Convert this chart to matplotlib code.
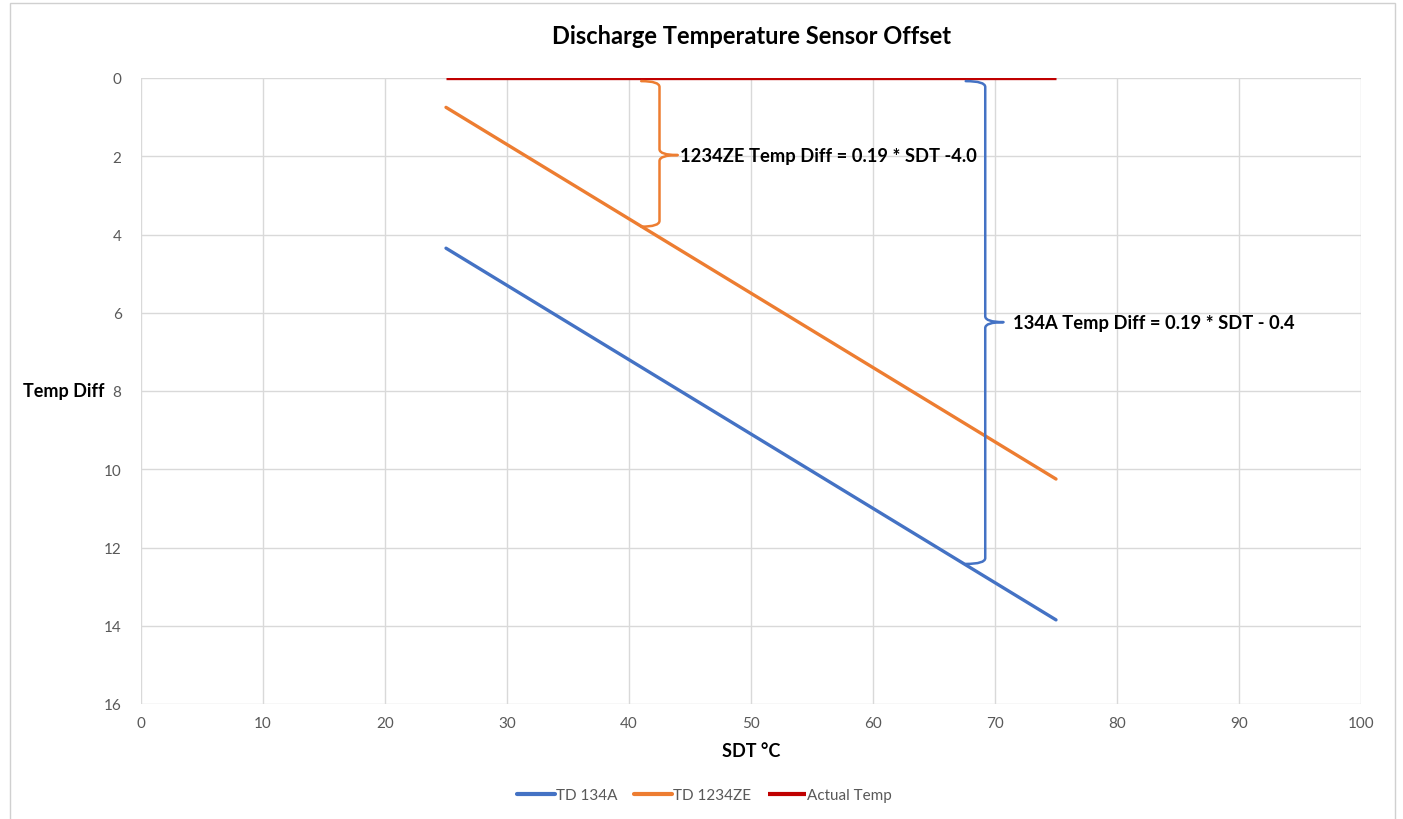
import matplotlib
matplotlib.use("Agg")
import matplotlib.pyplot as plt
from matplotlib.path import Path
from matplotlib.patches import PathPatch, Rectangle

plt.rcParams['font.family'] = ['Lato', 'DejaVu Sans']

# ---- data ----
sdt = [25, 50, 75]
td_134a = [4.35, 9.10, 13.85]
td_1234ze = [0.75, 5.50, 10.25]
actual_temp = [0, 0, 0]

x_ticks = [0, 10, 20, 30, 40, 50, 60, 70, 80, 90, 100]
y_ticks = [0, 2, 4, 6, 8, 10, 12, 14, 16]

title = "Discharge Temperature Sensor Offset"
label_1234ze = "1234ZE Temp Diff = 0.19 * SDT -4.0"
label_134a = "134A Temp Diff = 0.19 * SDT - 0.4"

BLUE = "#4472C4"
ORANGE = "#ED7D31"
RED = "#C00000"
GRID = "#D9D9D9"
TICK = "#595959"

fig = plt.figure(figsize=(14.03, 8.2), dpi=100)
fig.patch.set_facecolor("white")

# chart frame
fig.add_artist(Rectangle((10 / 1403, -0.01), (1395 - 10) / 1403, 1 - 4 / 820 + 0.01,
                         transform=fig.transFigure, fill=False, edgecolor="#D0D0D0", lw=1.0))

ax = fig.add_axes([141 / 1403, 1 - 705 / 820, (1361 - 141) / 1403, (705 - 79) / 820])

ax.plot(sdt, td_134a, color=BLUE, lw=2.4, label="TD 134A", solid_capstyle="round", zorder=3)
ax.plot(sdt, td_1234ze, color=ORANGE, lw=2.4, label="TD 1234ZE", solid_capstyle="round", zorder=3)
ax.plot(sdt, actual_temp, color=RED, lw=2.4, label="Actual Temp", solid_capstyle="butt", zorder=4)

ax.set_xlim(0, 100)
ax.set_ylim(16, 0)
ax.set_xticks(x_ticks)
ax.set_yticks(y_ticks)
ax.grid(True, color=GRID, lw=1.0)
ax.set_axisbelow(True)
for s in ax.spines.values():
    s.set_visible(False)
ax.tick_params(axis="both", length=0, colors=TICK, labelsize=11)
ax.tick_params(axis="y", pad=14)
ax.tick_params(axis="x", pad=9)

ax.set_title(title, fontsize=17, fontweight="bold", pad=25, color="black")
ax.set_xlabel("SDT °C", fontsize=13, fontweight="bold", labelpad=8)
ax.set_ylabel("Temp Diff", fontsize=13, fontweight="bold", rotation=0, va="center", ha="center")
ax.yaxis.set_label_coords(-0.0635, 0.5)


def brace(ax, x_end, x_spine, x_tip, y_top, y_mid, y_bot, color):
    ry = 0.15
    verts = [
        (x_end, y_top), (x_spine, y_top), (x_spine, y_top + ry),
        (x_spine, y_mid - ry),
        (x_spine, y_mid), (x_tip, y_mid),
        (x_spine, y_mid), (x_spine, y_mid + ry),
        (x_spine, y_bot - ry),
        (x_spine, y_bot), (x_end, y_bot),
    ]
    codes = [Path.MOVETO, Path.CURVE3, Path.CURVE3,
             Path.LINETO,
             Path.CURVE3, Path.CURVE3,
             Path.CURVE3, Path.CURVE3,
             Path.LINETO,
             Path.CURVE3, Path.CURVE3]
    ax.add_patch(PathPatch(Path(verts, codes), fill=False, edgecolor=color, lw=1.8,
                           capstyle="round", joinstyle="round", zorder=5))


brace(ax, 41.0, 42.5, 44.0, 0.08, 1.97, 3.8, ORANGE)
brace(ax, 67.6, 69.2, 70.7, 0.08, 6.24, 12.42, BLUE)

ax.text(44.2, 1.97, label_1234ze, fontsize=13.2, fontweight="bold", va="center", ha="left", zorder=6)
ax.text(71.5, 6.24, label_134a, fontsize=13.2, fontweight="bold", va="center", ha="left", zorder=6)

leg = fig.legend(loc="center", bbox_to_anchor=(704 / 1403, 1 - 796 / 820), ncol=3, frameon=False,
                 fontsize=11, handlelength=2.5, handletextpad=0.05, columnspacing=1.1)
for t in leg.get_texts():
    t.set_color(TICK)
for h in leg.get_lines():
    h.set_linewidth(3)

fig.savefig("out.png", dpi=100, facecolor="white")
